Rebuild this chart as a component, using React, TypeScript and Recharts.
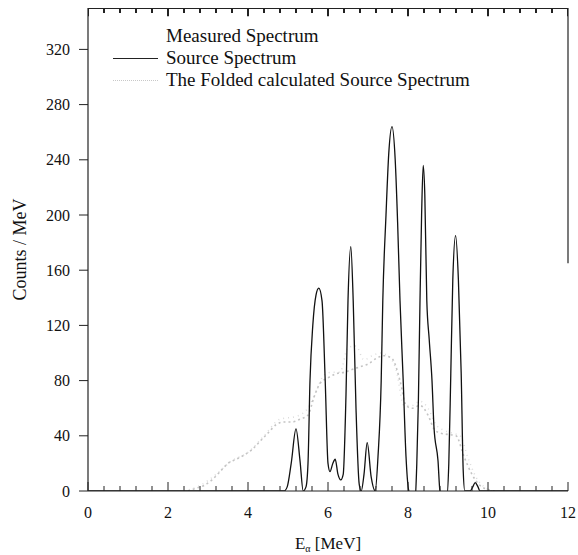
import React from "react";
import {
  ComposedChart,
  Line,
  XAxis,
  YAxis,
  Legend,
  ReferenceLine,
} from "recharts";

// [E (MeV), counts/MeV]
const sourceSpectrum: number[][] = [
  [0, 0], [4.9, 0], [4.98, 3], [5.08, 20], [5.2, 45], [5.3, 22], [5.38, 0],
  [5.45, 3], [5.5, 20], [5.55, 80], [5.62, 120], [5.7, 142], [5.77, 147],
  [5.85, 138], [5.93, 80], [6.0, 20], [6.05, 14], [6.12, 20], [6.18, 23],
  [6.25, 12], [6.32, 8], [6.38, 12], [6.45, 70], [6.5, 138], [6.57, 177],
  [6.63, 138], [6.7, 60], [6.78, 5], [6.83, 0], [6.9, 12], [6.98, 35],
  [7.08, 10], [7.18, 0], [7.25, 25], [7.33, 80], [7.37, 138], [7.45, 200],
  [7.52, 245], [7.6, 264], [7.68, 240], [7.74, 195], [7.8, 138], [7.88, 80],
  [7.95, 25], [8.02, 0], [8.12, -6], [8.18, -5], [8.22, 20], [8.26, 66],
  [8.3, 138], [8.34, 200], [8.38, 236], [8.42, 215], [8.47, 138], [8.53, 110],
  [8.6, 80], [8.65, 46], [8.75, 22], [8.8, 0], [8.88, -3], [8.97, -4],
  [9.02, 20], [9.07, 85], [9.12, 153], [9.19, 185], [9.26, 153], [9.33, 85],
  [9.38, 15], [9.42, 0], [9.55, 0], [9.62, 3], [9.68, 6], [9.75, 3],
  [9.8, 0], [12, 0],
];

const foldedSpectrum: number[][] = [
  [2.5, 0], [2.7, 2], [2.9, 4], [3.1, 8], [3.3, 14], [3.5, 20], [3.7, 23],
  [3.9, 26], [4.1, 30], [4.3, 36], [4.5, 42], [4.7, 48], [4.9, 50], [5.1, 50],
  [5.3, 52], [5.5, 55], [5.65, 68], [5.8, 78], [6.0, 82], [6.2, 85], [6.4, 86],
  [6.6, 88], [6.8, 90], [7.0, 92], [7.2, 96], [7.4, 98], [7.6, 96], [7.8, 80],
  [7.95, 62], [8.1, 60], [8.3, 62], [8.5, 55], [8.65, 45], [8.8, 42],
  [9.0, 41], [9.2, 40], [9.4, 25], [9.6, 12], [9.8, 4], [10.0, 1], [10.2, 0],
];

const measuredSpectrum: number[][] = [
  [2.4, 0], [2.8, 4], [3.2, 12], [3.6, 22], [4.0, 28], [4.4, 40], [4.8, 52],
  [5.2, 54], [5.5, 60], [5.7, 72], [5.9, 84], [6.1, 86], [6.3, 86],
  [6.5, 104], [6.7, 105], [6.9, 95], [7.1, 98], [7.3, 100], [7.5, 98],
  [7.7, 88], [7.9, 62], [8.1, 62], [8.3, 65], [8.5, 60], [8.7, 48],
  [8.9, 44], [9.1, 42], [9.3, 40], [9.5, 24], [9.7, 10], [9.9, 3], [10.1, 0],
];

// major ticks every 2 MeV (labelled), minor every 0.4 MeV
const xAllTicks = [
  0, 0.4, 0.8, 1.2, 1.6, 2, 2.4, 2.8, 3.2, 3.6, 4, 4.4, 4.8, 5.2, 5.6, 6,
  6.4, 6.8, 7.2, 7.6, 8, 8.4, 8.8, 9.2, 9.6, 10, 10.4, 10.8, 11.2, 11.6, 12,
];
const yTicks = [0, 40, 80, 120, 160, 200, 240, 280, 320];
const Y_MAX = 350;

const toRows = (arr: number[][]) => arr.map(([e, c]) => ({ e, c }));

const FONT = "'Liberation Serif', 'Times New Roman', serif";
const AXIS = "#222";

const isMajor = (v: number) => Math.abs(v / 2 - Math.round(v / 2)) < 1e-6;

// top frame with inward ticks, traced through the chart's own scales
const topFrameRows = xAllTicks.flatMap((t) => [
  { e: t, c: Y_MAX },
  { e: t, c: Y_MAX - (isMajor(t) ? 6 : 3.6) },
  { e: t, c: Y_MAX },
]);

const BottomTick = (props: any) => {
  const { x, y, payload } = props;
  const v = payload.value;
  const major = isMajor(v);
  return (
    <g>
      <line x1={x} x2={x} y1={y} y2={y - (major ? 9 : 5)} stroke={AXIS} />
      {major && (
        <text
          x={x}
          y={y + 16}
          dy="0.71em"
          textAnchor="middle"
          fontFamily={FONT}
          fontSize={16}
          fill="#111"
        >
          {v}
        </text>
      )}
    </g>
  );
};

const XTitle = (props: any) => {
  const vb = props.viewBox || {};
  const cx = vb.x + vb.width / 2;
  return (
    <text x={cx} y={549} textAnchor="middle" fontFamily={FONT} fontSize={17} fill="#111">
      E
      <tspan fontSize={10} dy={3}>α</tspan>
      <tspan dy={-3}> [MeV]</tspan>
    </text>
  );
};

const YTitle = (props: any) => {
  const vb = props.viewBox || {};
  const cy = vb.y + vb.height / 2;
  return (
    <text
      x={26}
      y={cy}
      transform={`rotate(-90, 26, ${cy})`}
      textAnchor="middle"
      fontFamily={FONT}
      fontSize={18}
      fill="#111"
    >
      Counts / MeV
    </text>
  );
};

const LegendContent = () => {
  const row: React.CSSProperties = {
    display: "flex",
    alignItems: "center",
    height: 22,
    fontFamily: FONT,
    fontSize: 19,
    color: "#111",
    whiteSpace: "nowrap",
  };
  const sample: React.CSSProperties = { width: 45, marginRight: 8, height: 0 };
  return (
    <div>
      <div style={row}>
        <span style={sample} />
        <span>Measured Spectrum</span>
      </div>
      <div style={row}>
        <span style={{ ...sample, borderTop: "1.5px solid #222" }} />
        <span>Source Spectrum</span>
      </div>
      <div style={row}>
        <span style={{ ...sample, borderTop: "1.5px dotted #c8c8c8" }} />
        <span>The Folded calculated Source Spectrum</span>
      </div>
    </div>
  );
};

export default function App() {
  return (
    <div style={{ position: "absolute", left: 0, top: 0, background: "#fff" }}>
      <ComposedChart
        width={578}
        height={555}
        margin={{ top: 8, right: 10, left: 0, bottom: 0 }}
      >
        <XAxis
          xAxisId="main"
          type="number"
          dataKey="e"
          domain={[0, 12]}
          ticks={xAllTicks}
          interval={0}
          allowDataOverflow
          height={64}
          tickLine={false}
          tickSize={0}
          tickMargin={0}
          axisLine={{ stroke: AXIS, strokeWidth: 1.2 }}
          tick={<BottomTick />}
          label={<XTitle />}
        />
        <YAxis
          yAxisId="left"
          type="number"
          domain={[0, Y_MAX]}
          ticks={yTicks}
          allowDataOverflow
          width={88}
          tickSize={9}
          tickMargin={9}
          tickLine={{ stroke: AXIS }}
          axisLine={{ stroke: AXIS, strokeWidth: 1.2 }}
          tick={{ fontFamily: FONT, fontSize: 16, fill: "#111" }}
          label={<YTitle />}
        />
        {/* partially visible right frame */}
        <ReferenceLine
          xAxisId="main"
          yAxisId="left"
          segment={[
            { x: 12, y: Y_MAX },
            { x: 12, y: 165 },
          ]}
          stroke={AXIS}
          strokeWidth={1.2}
          ifOverflow="visible"
        />
        <Line
          xAxisId="main"
          yAxisId="left"
          data={topFrameRows}
          dataKey="c"
          type="linear"
          stroke={AXIS}
          strokeWidth={2}
          legendType="none"
          dot={false}
          activeDot={false}
          isAnimationActive={false}
        />
        <Line
          xAxisId="main"
          yAxisId="left"
          name="Measured Spectrum"
          data={toRows(measuredSpectrum)}
          dataKey="c"
          type="monotone"
          stroke="#dcdcdc"
          strokeWidth={1.5}
          strokeDasharray="1 4"
          dot={false}
          isAnimationActive={false}
        />
        <Line
          xAxisId="main"
          yAxisId="left"
          name="The Folded calculated Source Spectrum"
          data={toRows(foldedSpectrum)}
          dataKey="c"
          type="monotone"
          stroke="#c4c4c4"
          strokeWidth={1.6}
          strokeDasharray="2 3"
          dot={false}
          isAnimationActive={false}
        />
        <Line
          xAxisId="main"
          yAxisId="left"
          name="Source Spectrum"
          data={toRows(sourceSpectrum)}
          dataKey="c"
          type="monotone"
          stroke="#111"
          strokeWidth={1.3}
          dot={false}
          isAnimationActive={false}
        />
        <Legend
          layout="vertical"
          align="center"
          verticalAlign="middle"
          content={<LegendContent />}
          wrapperStyle={{ position: "absolute", left: 113, top: 25, width: 400 }}
        />
      </ComposedChart>
    </div>
  );
}
